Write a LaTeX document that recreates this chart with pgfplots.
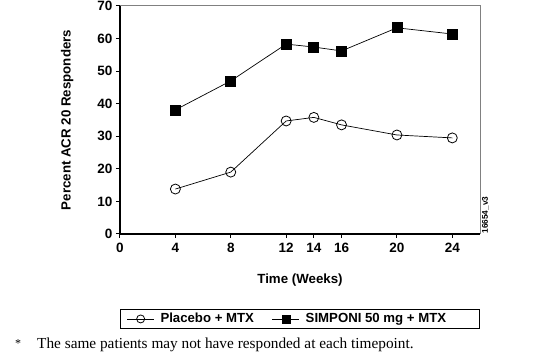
\documentclass[border=0pt]{standalone}
\usepackage{pgfplots}
\pgfplotsset{compat=1.18}
\usepackage{fontspec}
\setmainfont{Liberation Sans}
\newfontfamily\serif{Liberation Serif}
\begin{document}
\begin{tikzpicture}[x=1pt,y=1pt]
\path[use as bounding box] (0,0) rectangle (539,363);
\begin{axis}[
  at={(120pt,129pt)}, anchor=south west,
  scale only axis, width=360pt, height=228pt,
  xmin=0, xmax=26, ymin=0, ymax=70,
  xtick={0,4,8,12,14,16,20,24},
  ytick={0,10,...,70},
  axis x line*=bottom, axis y line*=left,
  axis line style={-, line width=1.3pt, black},
  tick align=outside, tick style={line width=1pt, black},
  major tick length=4pt,
  tick label style={font=\fontsize{13.5}{13.5}\selectfont\bfseries},
  xticklabel style={yshift=-2pt},
  /pgf/number format/assume math mode=true,
  xlabel={\bfseries Time (Weeks)},
  ylabel={\bfseries Percent ACR 20 Responders},
  label style={font=\fontsize{13.3}{14}\selectfont},
  xlabel style={at={(axis description cs:0.5,-0.202)}, anchor=center},
  ylabel style={at={(axis description cs:-0.147,0.5)}, anchor=center},
  clip=false,
  legend columns=2,
  legend image code/.code={\draw[mark repeat=2,mark phase=2,#1,mark size=4pt]
      plot coordinates {(0pt,0pt) (13.5pt,0pt) (27pt,0pt)};},
  legend style={at={(0.5,-0.329)}, anchor=north, draw=black, line width=0.8pt,
    font=\fontsize{13.2}{14}\selectfont\bfseries,
    inner xsep=6pt, inner ysep=2pt,
    /tikz/every odd column/.append style={column sep=4pt},
    /tikz/every even column/.append style={column sep=16pt}},
]
\addplot[black, line width=0.7pt, mark=o, mark size=5pt, mark options={fill=white, line width=0.8pt}]
  coordinates {(4,13.8) (8,19.0) (12,34.7) (14,35.8) (16,33.5) (20,30.4) (24,29.5)};
\addlegendentry{Placebo + MTX}
\addplot[black, line width=0.7pt, mark=square*, mark size=5pt, mark options={fill=black}]
  coordinates {(4,38.1) (8,47.0) (12,58.3) (14,57.4) (16,56.2) (20,63.3) (24,61.4)};
\addlegendentry{SIMPONI 50 mg + MTX\hspace*{25pt}}
\draw[gray, line width=1pt] (rel axis cs:0,1) -- (rel axis cs:1,1) -- (rel axis cs:1,0);
\node[rotate=90, anchor=north, font=\fontsize{8.3}{8.3}\selectfont\bfseries, inner sep=1pt]
  at ([xshift=1pt]rel axis cs:1,0.083) {16654\_v3};
\end{axis}
\node[anchor=base west, font=\serif\fontsize{12}{12}\selectfont, inner sep=0pt] at (15,15) {*};
\node[anchor=base west, font=\serif\fontsize{15.3}{14}\selectfont, inner sep=0pt] at (37,14) {The same patients may not have responded at each timepoint.};
\end{tikzpicture}
\end{document}
